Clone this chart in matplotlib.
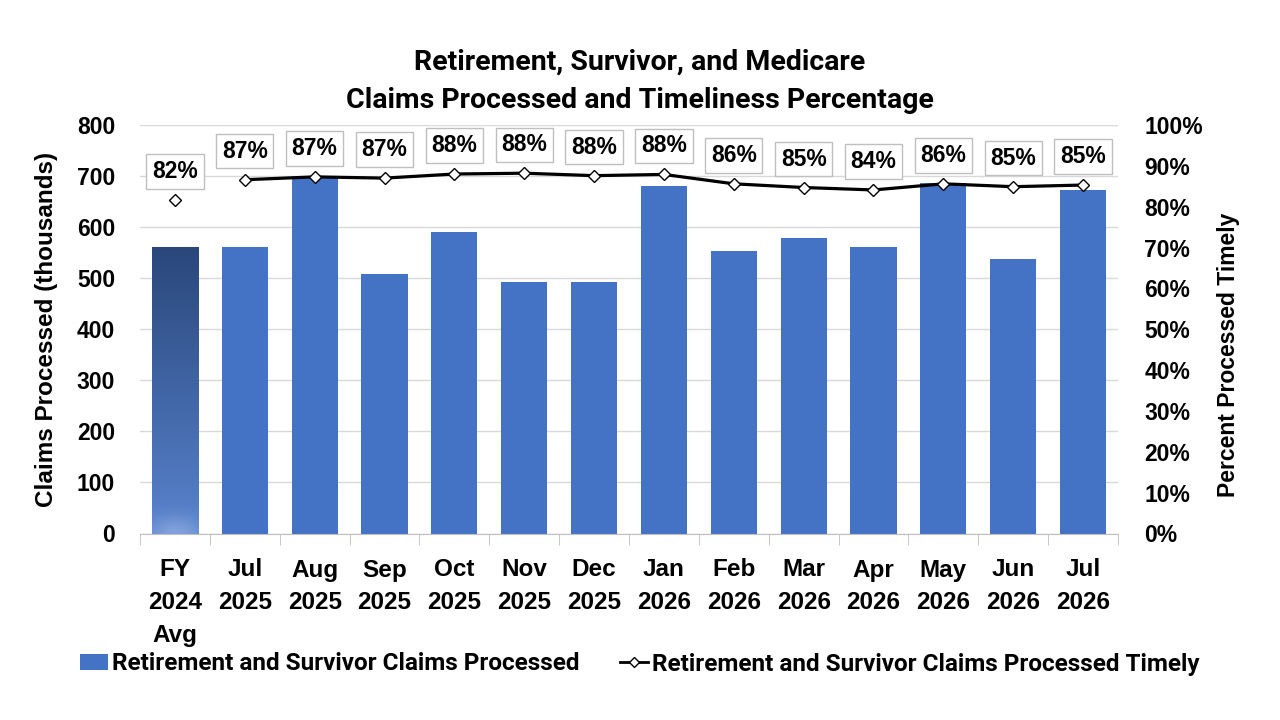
import matplotlib
matplotlib.use("Agg")
import matplotlib.pyplot as plt
import numpy as np
from matplotlib.lines import Line2D
from matplotlib.patches import Patch

categories = ["FY\n2024\nAvg", "Jul\n2025", "Aug\n2025", "Sep\n2025", "Oct\n2025", "Nov\n2025",
              "Dec\n2025", "Jan\n2026", "Feb\n2026", "Mar\n2026", "Apr\n2026", "May\n2026",
              "Jun\n2026", "Jul\n2026"]
claims = [562, 561, 699, 508, 590, 492, 493, 681, 553, 578, 562, 686, 538, 672]
timely = [81.6, 86.6, 87.3, 87.0, 88.0, 88.2, 87.6, 87.9, 85.6, 84.7, 84.1, 85.6, 84.9, 85.3]
left_ticks = [0, 100, 200, 300, 400, 500, 600, 700, 800]
right_ticks = [0, 10, 20, 30, 40, 50, 60, 70, 80, 90, 100]
title_lines = ["Retirement, Survivor, and Medicare", "Claims Processed and Timeliness Percentage"]
legend_labels = ["Retirement and Survivor Claims Processed",
                 "Retirement and Survivor Claims Processed Timely"]

NARROW = ["Liberation Sans Narrow", "Roboto", "DejaVu Sans"]
TITLE_FONT = ["Roboto", "DejaVu Sans"]
AX_FONT = ["Liberation Sans", "DejaVu Sans"]

W, H = 1280, 720
fig = plt.figure(figsize=(12.8, 7.2), dpi=100)
ax = fig.add_axes([140 / W, 1 - 533.5 / H, (1118 - 140) / W, (533.5 - 125) / H])
ax2 = ax.twinx()

x = np.arange(len(categories))
bar_color = "#4472C4"
bars = ax.bar(x, claims, width=0.66, color=bar_color, zorder=2)

# gradient fill for the first (average) bar
b0 = bars[0]
b0.set_facecolor("none")
x0, w0, h0 = b0.get_x(), b0.get_width(), b0.get_height()
ny, nx = 200, 40
yy = np.linspace(0, 1, ny)[:, None]
xx = np.linspace(-1, 1, nx)[None, :]
top = np.array([0x2A, 0x47, 0x7B]) / 255
bot = np.array([0x58, 0x83, 0xCE]) / 255
img = bot[None, None, :] * (1 - yy[..., None]) + top[None, None, :] * yy[..., None]
img = np.broadcast_to(img, (ny, nx, 3)).copy()
glow = np.exp(-((xx / 1.2) ** 2 + (yy / 0.06) ** 2))
img = img * (1 - 0.3 * glow[..., None]) + 0.3 * glow[..., None] * np.array([0.88, 0.92, 1.0])
im = ax.imshow(img, extent=[x0, x0 + w0, 0, h0], origin="lower", aspect="auto", zorder=2,
               interpolation="bilinear")
im.set_clip_path(b0)
ax.set_xlim(-0.5, len(categories) - 0.5)

ax.set_ylim(0, 800)
ax.set_yticks(left_ticks)
ax.yaxis.grid(True, color="#D9D9D9", linewidth=1.0, zorder=0)
ax.set_axisbelow(True)
for s in ["top", "left", "right"]:
    ax.spines[s].set_visible(False)
    ax2.spines[s].set_visible(False)
ax2.spines["bottom"].set_visible(False)
ax.spines["bottom"].set_color("#BFBFBF")
ax.tick_params(axis="y", length=0, pad=18)
ax.set_xticks(x)
ax.set_xticklabels(categories, fontsize=17.5, fontweight="bold", family=AX_FONT, linespacing=1.55)
ax.tick_params(axis="x", length=0, pad=18)
ax.set_xticks(np.arange(-0.5, len(categories), 1), minor=True)
ax.tick_params(axis="x", which="minor", length=8, color="#BFBFBF")
for lab in ax.get_yticklabels():
    lab.set_fontsize(16.5); lab.set_fontweight("bold"); lab.set_family(AX_FONT)

ax2.set_ylim(0, 100)
ax2.set_yticks(right_ticks)
ax2.set_yticklabels([f"{v}%" for v in right_ticks])
for lab in ax2.get_yticklabels():
    lab.set_fontsize(16.5); lab.set_fontweight("bold"); lab.set_family(AX_FONT)
ax2.tick_params(axis="y", length=0, pad=19)

fig.text(47 / W, 1 - 329 / H, "Claims Processed (thousands)", rotation=90, ha="center", va="center",
         fontsize=17.5, fontweight="bold", family=AX_FONT)
fig.text(1228 / W, 1 - 355 / H, "Percent Processed Timely", rotation=90, ha="center", va="center",
         fontsize=16.5, fontweight="bold", family=AX_FONT)

# line (monthly only) and separate FY avg marker
ax2.plot(x[1:], timely[1:], color="black", linewidth=2.3, marker="D", markersize=6,
         markerfacecolor="white", markeredgecolor="black", markeredgewidth=1.0, zorder=4)
ax2.plot(x[:1], timely[:1], linestyle="none", marker="D", markersize=6,
         markerfacecolor="white", markeredgecolor="black", markeredgewidth=1.0, zorder=4)

for xi, v in zip(x, timely):
    ax2.annotate(f"{round(v)}%", (xi, v), xytext=(0, 20.5), textcoords="offset points",
                 ha="center", va="center", fontsize=16.5, fontweight="bold", family=AX_FONT,
                 bbox=dict(boxstyle="square,pad=0.25", facecolor="white", edgecolor="#BFBFBF", linewidth=1),
                 zorder=6)

fig.text(0.5, 1 - 62 / H, title_lines[0], ha="center", va="center",
         fontsize=20.5, fontweight="bold", family=TITLE_FONT)
fig.text(0.5, 1 - 101 / H, title_lines[1], ha="center", va="center",
         fontsize=20.5, fontweight="bold", family=TITLE_FONT)

handles = [Patch(facecolor=bar_color, edgecolor="none"),
           Line2D([0], [0], color="black", linewidth=2, marker="D", markersize=5,
                  markerfacecolor="white", markeredgecolor="black")]
leg = fig.legend(handles, legend_labels,
                 loc="center", bbox_to_anchor=(0.5, 1 - 664 / H), ncol=2, frameon=False,
                 prop=dict(family=NARROW, weight="bold", size=17.5),
                 handlelength=1.15, handleheight=0.62, handletextpad=0.18, columnspacing=1.65,
                 borderpad=0)

fig.savefig("out.png", dpi=100, facecolor="white")
